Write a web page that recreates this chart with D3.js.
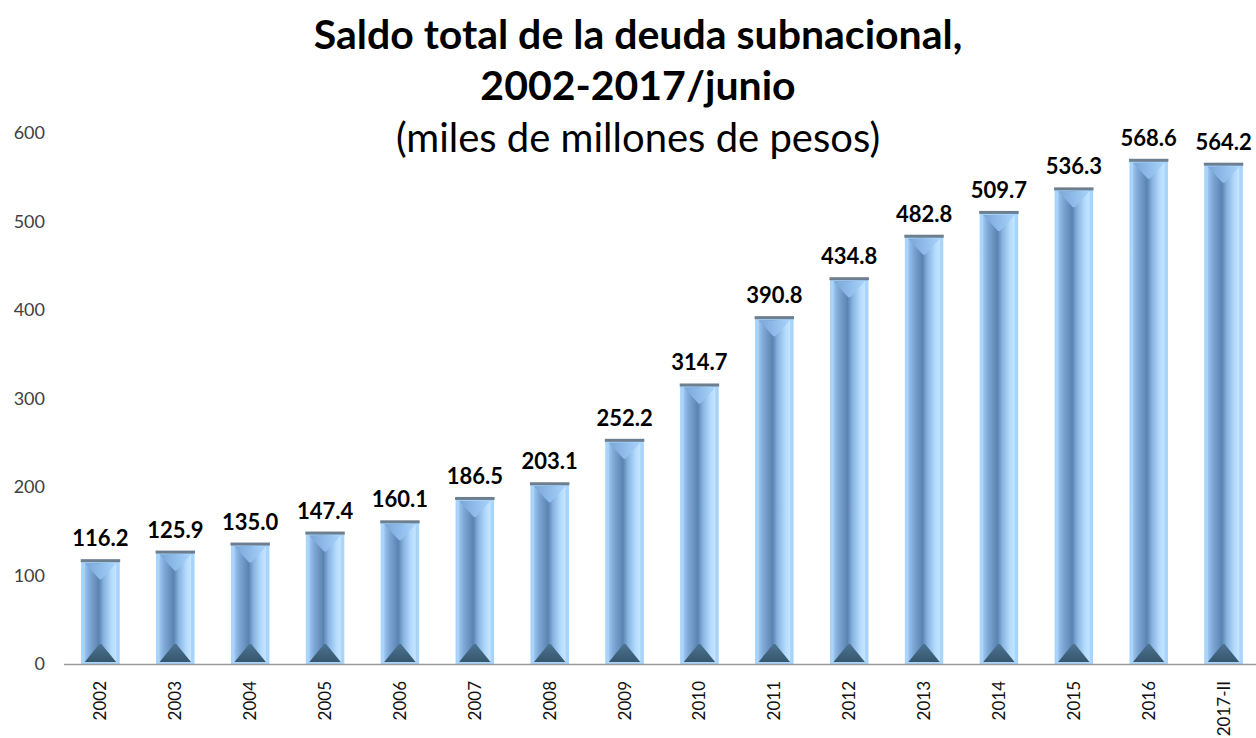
<!DOCTYPE html>
<html>
<head>
<meta charset="utf-8">
<script src="https://cdnjs.cloudflare.com/ajax/libs/d3/7.8.5/d3.min.js"></script>
<style>
  body { margin: 0; background: #fff; }
  svg { display: block; }
</style>
</head>
<body>
<svg id="chart"></svg>
<script>
// data
var years = ["2002","2003","2004","2005","2006","2007","2008","2009","2010","2011","2012","2013","2014","2015","2016","2017-II"];
var saldo = [116.2, 125.9, 135.0, 147.4, 160.1, 186.5, 203.1, 252.2, 314.7, 390.8, 434.8, 482.8, 509.7, 536.3, 568.6, 564.2];
var yTicks = [0, 100, 200, 300, 400, 500, 600];
var titleLines = ["Saldo total de la deuda subnacional,", "2002-2017/junio"];
var subtitle = "(miles de millones de pesos)";

var W = 1256, H = 738;
var font = "Lato, 'Open Sans', sans-serif";

var svg = d3.select("#chart").attr("width", W).attr("height", H);

var data = years.map(function(d, i) { return { key: d, value: saldo[i] }; });

var x = d3.scaleBand()
  .domain(years)
  .range([63, 1261])
  .paddingInner(0.5)
  .paddingOuter(0.25);

var y = d3.scaleLinear()
  .domain([0, 600])
  .range([664, 133]);

// gradients for the bevelled bars
var defs = svg.append("defs");
var g1 = defs.append("linearGradient").attr("id", "core").attr("x1", 0).attr("x2", 1).attr("y1", 0).attr("y2", 0);
g1.append("stop").attr("offset", "0%").attr("stop-color", "#9cc6f0");
g1.append("stop").attr("offset", "15%").attr("stop-color", "#7ea8d6");
g1.append("stop").attr("offset", "45%").attr("stop-color", "#5a83b1");
g1.append("stop").attr("offset", "60%").attr("stop-color", "#86b2e0");
g1.append("stop").attr("offset", "85%").attr("stop-color", "#b4dbfd");
g1.append("stop").attr("offset", "100%").attr("stop-color", "#c6e5ff");

var g2 = defs.append("linearGradient").attr("id", "topf").attr("x1", 0).attr("x2", 1).attr("y1", 0).attr("y2", 0);
g2.append("stop").attr("offset", "0%").attr("stop-color", "#7aa6d6");
g2.append("stop").attr("offset", "50%").attr("stop-color", "#8fbcea");
g2.append("stop").attr("offset", "100%").attr("stop-color", "#a9d3fb");

var g3 = defs.append("linearGradient").attr("id", "botf").attr("x1", 0).attr("x2", 0).attr("y1", 0).attr("y2", 1);
g3.append("stop").attr("offset", "0%").attr("stop-color", "#4d7391");
g3.append("stop").attr("offset", "100%").attr("stop-color", "#35566d");

// y axis labels (no line)
svg.append("g")
  .attr("transform", "translate(45,0)")
  .call(d3.axisLeft(y).tickValues(yTicks).tickSize(0).tickPadding(0))
  .call(function(g) { g.select(".domain").remove(); })
  .selectAll("text")
  .attr("font-family", font)
  .attr("font-size", 18)
  .attr("fill", "#404040");

// bars
var bars = svg.append("g").selectAll("g.bar")
  .data(data)
  .enter().append("g")
  .attr("class", "bar");

bars.each(function(d) {
  var g = d3.select(this);
  var x0 = x(d.key), bw = x.bandwidth(), x1 = x0 + bw;
  var y0 = y(d.value), y1 = y(0);
  var cx = x0 + bw / 2;
  var inset = 3, bev = 18;

  g.append("rect")
    .attr("x", x0).attr("y", y0)
    .attr("width", bw).attr("height", y1 - y0)
    .attr("fill", "#a9d4fb")
    .attr("stroke", "#a3d2fb")
    .attr("stroke-width", 1);

  g.append("rect")
    .attr("x", x0 + inset).attr("y", y0 + 2)
    .attr("width", bw - inset * 2).attr("height", y1 - y0 - 4)
    .attr("fill", "url(#core)");

  // top facet
  g.append("polygon")
    .attr("points", [[x0 + inset, y0 + 2], [x1 - inset, y0 + 2], [cx + 1, y0 + bev], [cx - 1, y0 + bev]].join(" "))
    .attr("fill", "url(#topf)");

  // bottom facet
  g.append("polygon")
    .attr("points", [[x0 + inset, y1 - 2], [x1 - inset, y1 - 2], [cx + 1, y1 - bev - 2], [cx - 1, y1 - bev - 2]].join(" "))
    .attr("fill", "url(#botf)");

  // dark cap on top
  g.append("rect")
    .attr("x", x0 - 1).attr("y", y0 - 2)
    .attr("width", bw + 2).attr("height", 3)
    .attr("fill", "#6d7f8f");
});

// value labels
svg.append("g").selectAll("text")
  .data(data)
  .enter().append("text")
  .attr("x", function(d) { return x(d.key) + x.bandwidth() / 2; })
  .attr("y", function(d) { return y(d.value) - 15; })
  .attr("text-anchor", "middle")
  .attr("font-family", font)
  .attr("font-weight", "bold")
  .attr("font-size", 22)
  .attr("fill", "#000")
  .text(function(d) { return d.value.toFixed(1); });

// x axis
var xAxis = svg.append("g")
  .attr("transform", "translate(0," + y(0) + ")")
  .call(d3.axisBottom(x).tickSize(0).tickPadding(0));
xAxis.select(".domain")
  .attr("d", "M64,0.5H1256")
  .attr("stroke", "#9a9a9a")
  .attr("stroke-width", 1.5);
xAxis.selectAll("text")
  .attr("font-family", font)
  .attr("font-size", 17)
  .attr("fill", "#111")
  .attr("text-anchor", "end")
  .attr("dy", "0.35em")
  .attr("transform", "translate(0,17) rotate(-90)");

// titles
svg.append("g").selectAll("text")
  .data(titleLines)
  .enter().append("text")
  .attr("x", 638)
  .attr("y", function(d, i) { return 49 + i * 51; })
  .attr("text-anchor", "middle")
  .attr("font-family", font)
  .attr("font-weight", "bold")
  .attr("font-size", 41)
  .attr("fill", "#000")
  .text(function(d) { return d; });

svg.append("text")
  .attr("x", 638)
  .attr("y", 152)
  .attr("text-anchor", "middle")
  .attr("font-family", font)
  .attr("font-size", 40)
  .attr("fill", "#000")
  .text(subtitle);
</script>
</body>
</html>
